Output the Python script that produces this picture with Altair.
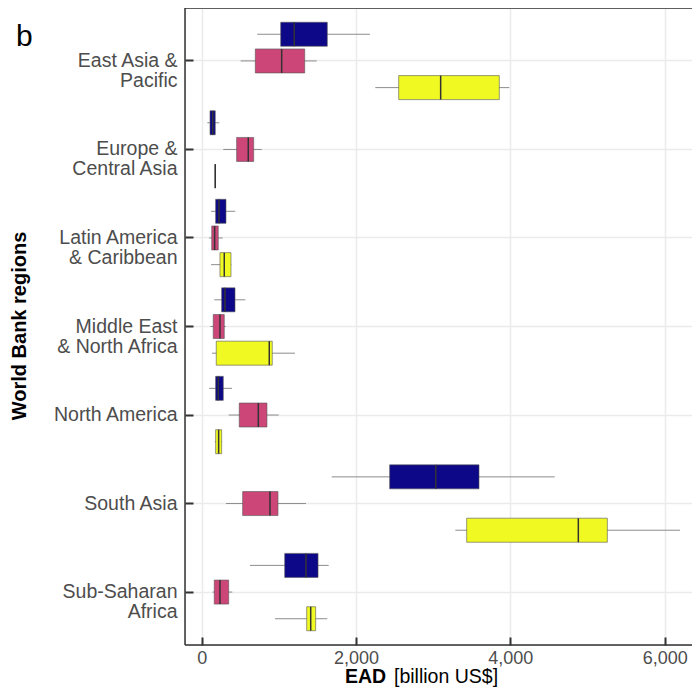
import altair as alt
import pandas as pd

regions = ["East Asia &\nPacific", "Europe &\nCentral Asia", "Latin America\n& Caribbean",
           "Middle East\n& North Africa", "North America", "South Asia", "Sub-Saharan\nAfrica"]
series_names = ["Scenario 1", "Scenario 2", "Scenario 3"]
series_colors = ["#0D0887", "#CC4678", "#F0F921"]

# per series: whisker min, Q1, median, Q3, whisker max (billion US$)
s1_wmin = [720, 73, 121, 163, 98, 1685, 626]
s1_q1 = [1024, 108, 181, 259, 181, 2436, 1076]
s1_med = [1200, 143, 224, 302, 215, 3033, 1352]
s1_q3 = [1628, 176, 315, 432, 280, 3594, 1508]
s1_wmax = [2181, 228, 435, 565, 393, 4575, 1646]

s2_wmin = [505, 280, 95, 111, 350, 315, 143]
s2_q1 = [695, 453, 130, 150, 487, 531, 163]
s2_med = [1037, 604, 168, 237, 734, 885, 237]
s2_q3 = [1335, 674, 215, 293, 846, 989, 350]
s2_wmax = [1490, 778, 272, 311, 998, 1352, 397]

s3_wmin = [2250, 170, 121, 133, 170, 3287, 950]
s3_q1 = [2553, 176, 237, 189, 181, 3434, 1361]
s3_med = [3097, 176, 293, 876, 220, 4881, 1413]
s3_q3 = [3857, 176, 380, 915, 259, 5257, 1477]
s3_wmax = [3987, 180, 385, 1209, 265, 6199, 1628]

x_ticks = [0, 2000, 4000, 6000]

rows = []
for name, wmin, q1, med, q3, wmax in [
    (series_names[0], s1_wmin, s1_q1, s1_med, s1_q3, s1_wmax),
    (series_names[1], s2_wmin, s2_q1, s2_med, s2_q3, s2_wmax),
    (series_names[2], s3_wmin, s3_q1, s3_med, s3_q3, s3_wmax),
]:
    for i, r in enumerate(regions):
        rows.append(dict(region=r, series=name, wmin=wmin[i], q1=q1[i], med=med[i], q3=q3[i], wmax=wmax[i]))
df = pd.DataFrame(rows)

FONT = "Liberation Sans"
W, H = 507, 637

xscale = alt.Scale(domain=[-216, 6354], nice=False, zero=False)
yenc = alt.Y("region:N", sort=regions, title=None,
             scale=alt.Scale(paddingInner=0, paddingOuter=0.098),
             axis=alt.Axis(offset=-8, tickSize=8, tickWidth=2, tickColor="#333333", domain=False,
                           grid=True, gridColor="#ebebeb", gridWidth=1.5, labelPadding=8,
                           labelFontSize=19.5, labelColor="#4d4d4d", labelFont=FONT, labelLineHeight=20,
                           labelExpr="split(datum.label, '\\n')"))
yoff = alt.YOffset("series:N", sort=series_names,
                   scale=alt.Scale(domain=series_names, paddingInner=0.1, paddingOuter=0.209))
xaxis = alt.Axis(values=x_ticks, format=",.0f", offset=-8, tickSize=8, tickWidth=2, tickColor="#333333",
                 domain=False, grid=True, gridColor="#ebebeb", gridWidth=1.5, labelPadding=4,
                 labelFontSize=18, labelColor="#4d4d4d", labelFont=FONT, title=None)
color = alt.Color("series:N", scale=alt.Scale(domain=series_names, range=series_colors), legend=None)

base = alt.Chart(df)
whisk = base.mark_rule(color="#8c8c8c", strokeWidth=1).encode(
    x=alt.X("wmin:Q", scale=xscale, axis=xaxis), x2="wmax:Q", y=yenc, yOffset=yoff)
box = base.mark_bar(stroke="#555555", strokeWidth=0.6).encode(
    x=alt.X("q1:Q", scale=xscale), x2="q3:Q", y=yenc, yOffset=yoff, color=color)
median = base.mark_tick(color="#333333", thickness=1.5, size=24, opacity=1).encode(
    x=alt.X("med:Q", scale=xscale), y=yenc, yOffset=yoff)

frame_top = alt.Chart().mark_rule(color="#333333", strokeWidth=1.5).encode(
    x=alt.value(0), x2=alt.value(W), y=alt.value(0))
frame_left = alt.Chart().mark_rule(color="#333333", strokeWidth=1.5).encode(
    x=alt.value(0), y=alt.value(0), y2=alt.value(H))
frame_bottom = alt.Chart().mark_rule(color="#333333", strokeWidth=1.5).encode(
    x=alt.value(0), x2=alt.value(W), y=alt.value(H))

ytitle = alt.Chart().mark_text(text="World Bank regions", angle=270, font=FONT, fontSize=20,
                               fontWeight="bold", color="black", align="center", baseline="alphabetic").encode(
    x=alt.value(-159), y=alt.value(318))
xt1 = alt.Chart().mark_text(text="EAD", font=FONT, fontSize=19.5, fontWeight="bold", color="black",
                            align="left", baseline="alphabetic").encode(x=alt.value(160), y=alt.value(675))
xt2 = alt.Chart().mark_text(text="[billion US$]", font=FONT, fontSize=19.5, color="black",
                            align="left", baseline="alphabetic").encode(x=alt.value(209), y=alt.value(675))
panel = alt.Chart().mark_text(text="b", font=FONT, fontSize=30, color="black",
                              align="left", baseline="alphabetic").encode(x=alt.value(-169), y=alt.value(38))

chart = alt.layer(whisk, box, median, frame_top, frame_left, frame_bottom, ytitle, xt1, xt2, panel).properties(
    width=W, height=H, padding={"left": 177, "top": 0, "right": 0, "bottom": 42},
    autosize=alt.AutoSizeParams(type="none")
).configure_view(stroke=None).configure(font=FONT)

chart.save("out.html", embed_options={"renderer": "svg", "actions": False})
